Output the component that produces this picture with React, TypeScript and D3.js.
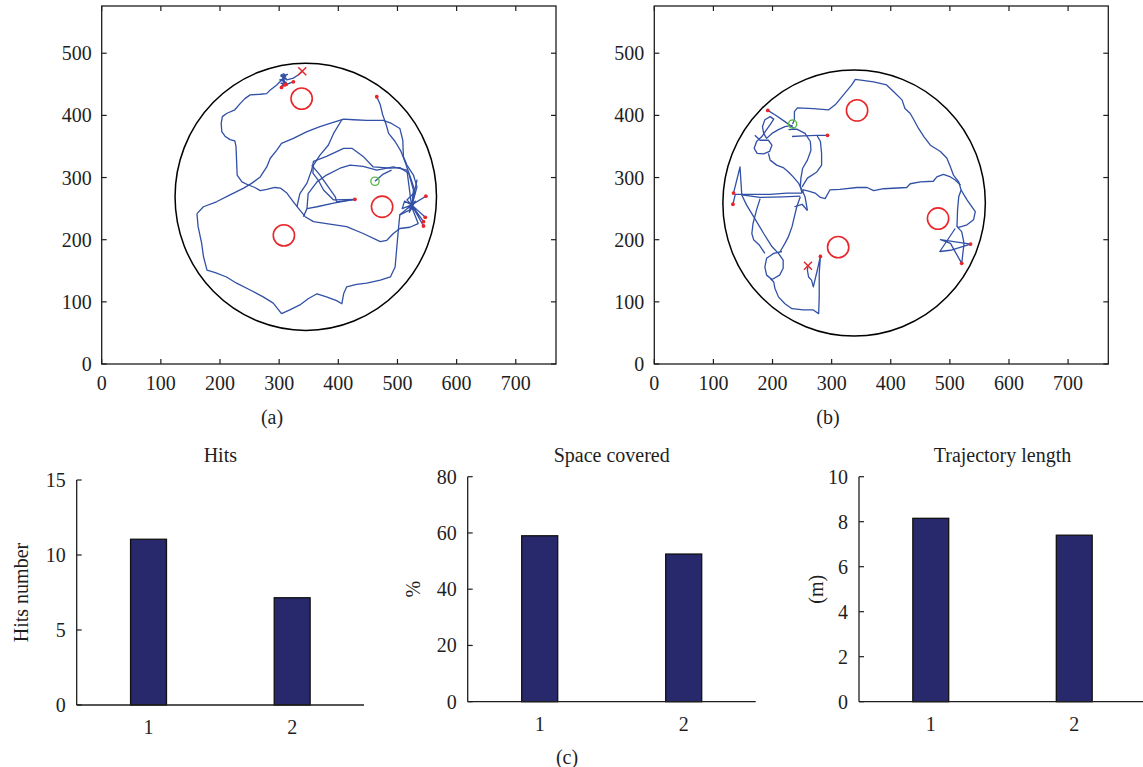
import React from 'react';
import * as d3 from 'd3';

const W = 1143;
const H = 767;
const FONT = '"Liberation Serif", "Times New Roman", serif';
const INK = '#1e1e1e';
const TRAJ = '#3150a6';
const RED = '#e8262a';
const GREEN = '#5cb84a';
const BAR = '#28286c';

// ---------- map panels data ----------
const mapXTicks = [0, 100, 200, 300, 400, 500, 600, 700];
const mapYTicks = [0, 100, 200, 300, 400, 500];
const mapXDomain = [0, 768];
const mapYDomain = [0, 576];

// arena: cx, cy, rx, ry
const arenaA = [345, 269, 221, 215];
const arenaB = [338, 259, 222, 214];
const targetsA = [[338, 427], [474, 253], [308, 207]];
const targetsB = [[343, 408], [480, 234], [311, 188]];
const startA = [462, 294];
const startB = [234, 386];
const endA = [339, 471];
const endB = [260, 158];
const hitsA = [[304, 445], [309, 449], [312, 450], [324, 454], [428, 265], [465, 430], [548, 270], [547, 236], [544, 229], [544, 222]];
const hitsB = [[192, 408], [293, 368], [134, 275], [133, 257], [281, 173], [535, 193], [520, 162]];

// panel (a) trajectory pieces
const a1 = [[307, 460], [296, 449], [285, 441], [279, 435], [268, 434], [251, 433], [242, 427], [234, 419], [225, 409], [211, 403], [204, 398], [202, 387], [203, 374], [209, 366], [217, 361], [225, 359], [227, 350], [228, 328], [229, 304], [237, 293], [248, 288], [259, 284], [268, 279], [279, 281], [293, 284], [302, 283], [313, 275], [324, 261], [333, 250], [344, 237], [358, 229], [380, 226], [414, 221], [442, 210], [471, 197], [482, 199], [493, 210], [504, 218], [521, 220], [535, 226], [524, 253]];
const a2 = [[161, 242], [172, 253], [194, 261], [217, 272], [240, 283], [254, 291], [268, 301], [279, 317], [285, 331], [296, 344], [304, 355], [324, 363], [347, 374], [369, 382], [386, 387], [409, 394], [426, 393], [448, 392], [476, 392], [490, 387], [504, 379], [509, 360], [510, 334], [516, 320], [527, 304], [533, 285], [527, 264], [524, 253]];
const a3 = [[161, 242], [163, 221], [169, 194], [172, 173], [178, 151], [192, 147], [211, 140], [228, 130], [251, 119], [273, 108], [290, 98], [304, 81], [318, 87], [335, 95], [349, 105], [364, 113], [380, 108], [397, 102], [406, 97], [409, 113], [414, 124], [431, 128], [448, 130], [471, 135], [488, 140], [496, 156], [499, 189], [502, 221], [504, 240], [521, 248], [524, 253]];
const a4 = [[465, 430], [471, 417], [475, 401], [481, 385], [485, 371], [496, 358], [506, 342], [514, 322], [522, 300], [529, 280], [524, 256]];
const a5 = [[330, 253], [335, 274], [347, 291], [355, 312], [358, 326], [380, 334], [409, 347], [423, 347], [442, 334], [459, 317], [488, 315], [504, 316], [519, 307], [527, 280], [524, 253]];
const a6 = [[341, 237], [347, 250], [364, 253], [392, 259], [428, 265]];
const a7 = [[355, 320], [369, 304], [383, 285], [395, 269], [397, 261], [428, 265]];
const a8 = [[347, 250], [349, 274], [364, 293], [380, 304], [403, 315], [420, 320], [442, 318], [465, 312], [493, 317], [516, 312], [524, 253]];
const a9 = [[406, 393], [392, 371], [383, 352], [369, 336], [358, 320], [357, 307], [366, 296], [375, 280], [392, 264], [428, 265]];
const a10 = [[462, 294], [475, 305], [490, 312]];
const a11 = [[548, 270], [524, 256], [547, 236], [524, 256], [544, 229], [524, 256], [544, 222], [524, 256], [504, 240], [524, 256], [516, 264], [530, 277], [524, 256], [533, 296], [524, 256], [512, 262], [508, 250], [524, 256], [520, 244], [530, 262], [518, 252], [528, 248], [524, 256]];
const a12 = [[339, 471], [332, 465], [324, 460], [313, 457], [306, 462], [314, 466], [303, 463], [312, 459], [301, 457], [312, 453], [303, 452], [310, 449], [304, 446], [309, 455], [307, 460], [303, 465], [308, 467], [311, 462], [305, 458], [309, 452], [306, 449], [312, 450], [324, 454]];
const trajA = [a1, a2, a3, a4, a5, a6, a7, a8, a9, a10, a11, a12];

// panel (b) trajectory pieces
const b1 = [[234, 386], [237, 393], [237, 406], [242, 412], [269, 411], [295, 409], [306, 417], [320, 433], [334, 449], [340, 458], [371, 454], [393, 449], [405, 438], [419, 425], [424, 411], [433, 403], [439, 393], [447, 379], [456, 366], [467, 352], [484, 342], [495, 331], [501, 317], [506, 304], [515, 293], [519, 280], [515, 269], [513, 248], [512, 221]];
const b2 = [[519, 280], [529, 264], [543, 245], [540, 232], [529, 224], [515, 220], [512, 221], [520, 213], [524, 194], [522, 178], [520, 162], [501, 194], [484, 200], [535, 193], [501, 183], [483, 181], [509, 218]];
const b3 = [[518, 288], [509, 296], [501, 301], [489, 305], [478, 301], [472, 294], [450, 293], [433, 290], [427, 284], [388, 282], [371, 279], [360, 284], [343, 284], [314, 281], [297, 280], [289, 266], [281, 268], [272, 275], [261, 278], [252, 280], [250, 275]];
const b4 = [[192, 408], [204, 401], [221, 390], [237, 379]];
const b5 = [[234, 384], [221, 382], [210, 377], [199, 371], [190, 363], [185, 371], [183, 382], [187, 393], [196, 398], [202, 394], [196, 385], [190, 377], [182, 366], [173, 358], [169, 347], [174, 339], [185, 338], [195, 342], [199, 352], [193, 360], [179, 360], [170, 368]];
const b6 = [[233, 366], [252, 367], [275, 368], [293, 368]];
const b7 = [[227, 377], [241, 378], [255, 371], [264, 358], [265, 344], [259, 328], [251, 315], [248, 299], [247, 285], [250, 275]];
const b8 = [[275, 368], [281, 358], [283, 339], [283, 320], [275, 309], [259, 299], [250, 285]];
const b9 = [[193, 339], [196, 328], [207, 320], [218, 316], [227, 309], [235, 301], [244, 291], [250, 280], [255, 269], [259, 247]];
const b10 = [[134, 275], [145, 317], [148, 272], [179, 268], [218, 269], [247, 270]];
const b11 = [[133, 257], [137, 273], [168, 273], [196, 273], [224, 275], [250, 275]];
const b12 = [[148, 272], [156, 256], [168, 237], [185, 210], [199, 189], [210, 178], [218, 167], [218, 154], [212, 143], [199, 136], [190, 143], [187, 156], [190, 170], [202, 178], [216, 181]];
const b13 = [[179, 266], [173, 248], [167, 226], [165, 210], [168, 200], [178, 191], [187, 178]];
const b14 = [[247, 269], [241, 253], [237, 237], [233, 221], [227, 205], [221, 194], [213, 181]];
const b15 = [[196, 138], [202, 132], [204, 122], [210, 108], [221, 97], [233, 89], [252, 87], [269, 87], [278, 81], [279, 108], [279, 146], [281, 173], [275, 148], [269, 124], [266, 135], [261, 140], [259, 151], [260, 158]];
const b16 = [[237, 253], [250, 257], [259, 247]];
const trajB = [b1, b2, b3, b4, b5, b6, b7, b8, b9, b10, b11, b12, b13, b14, b15, b16];

// ---------- bar chart data ----------
const barCategories = [1, 2];
const hitsValues = [11.05, 7.15];
const hitsTicks = [0, 5, 10, 15];
const spaceValues = [59.0, 52.5];
const spaceTicks = [0, 20, 40, 60, 80];
const lengthValues = [8.15, 7.4];
const lengthTicks = [0, 2, 4, 6, 8, 10];

type Pt = number[];

function MapPanel(props: {
  left: number; right: number; top: number; bottom: number;
  arena: number[]; targets: Pt[]; start: Pt; end: Pt; hits: Pt[]; segs: Pt[][];
  label: string; labelX: number;
}) {
  const { left, right, top, bottom, arena, targets, start, end, hits, segs, label, labelX } = props;
  const x = d3.scaleLinear().domain(mapXDomain).range([left, right]);
  const y = d3.scaleLinear().domain(mapYDomain).range([bottom, top]);
  const line = d3.line<Pt>().x(d => x(d[0])).y(d => y(d[1]));
  const tr = x(18) - x(0);
  const gr = x(7) - x(0);
  const xs = 4;
  return (
    <g>
      <rect x={left} y={top} width={right - left} height={bottom - top} fill="white" stroke={INK} strokeWidth={1.3} />
      {mapXTicks.map(t => (
        <g key={'xt' + t}>
          <line x1={x(t)} x2={x(t)} y1={bottom} y2={bottom - 5} stroke={INK} strokeWidth={1.2} />
          <line x1={x(t)} x2={x(t)} y1={top} y2={top + 5} stroke={INK} strokeWidth={1.2} />
          <text x={x(t)} y={bottom + 26} textAnchor="middle" fontFamily={FONT} fontSize={20} fill={INK}>{t}</text>
        </g>
      ))}
      {mapYTicks.map(t => (
        <g key={'yt' + t}>
          <line x1={left} x2={left + 5} y1={y(t)} y2={y(t)} stroke={INK} strokeWidth={1.2} />
          <line x1={right} x2={right - 5} y1={y(t)} y2={y(t)} stroke={INK} strokeWidth={1.2} />
          <text x={left - 10} y={y(t)} dy="0.35em" textAnchor="end" fontFamily={FONT} fontSize={20} fill={INK}>{t}</text>
        </g>
      ))}
      <ellipse cx={x(arena[0])} cy={y(arena[1])} rx={x(arena[0] + arena[2]) - x(arena[0])} ry={y(arena[1]) - y(arena[1] + arena[3])} fill="none" stroke="#000" strokeWidth={1.5} />
      {targets.map((t, i) => (
        <circle key={'tg' + i} cx={x(t[0])} cy={y(t[1])} r={tr} fill="none" stroke={RED} strokeWidth={1.6} />
      ))}
      {segs.map((s, i) => (
        <path key={'sg' + i} d={line(s) || ''} fill="none" stroke={TRAJ} strokeWidth={1.3} strokeLinejoin="round" />
      ))}
      <circle cx={x(start[0])} cy={y(start[1])} r={gr} fill="none" stroke={GREEN} strokeWidth={1.4} />
      {hits.map((h, i) => (
        <circle key={'h' + i} cx={x(h[0])} cy={y(h[1])} r={1.9} fill={RED} />
      ))}
      <g stroke={RED} strokeWidth={1.5}>
        <line x1={x(end[0]) - xs} x2={x(end[0]) + xs} y1={y(end[1]) - xs} y2={y(end[1]) + xs} />
        <line x1={x(end[0]) - xs} x2={x(end[0]) + xs} y1={y(end[1]) + xs} y2={y(end[1]) - xs} />
      </g>
      <text x={labelX} y={424} textAnchor="middle" fontFamily={FONT} fontSize={20} fill={INK}>{label}</text>
    </g>
  );
}

function BarPanel(props: {
  left: number; width: number; top: number; bottom: number;
  values: number[]; ticks: number[]; title: string; ylabel: string; ylabelX: number;
}) {
  const { left, width, top, bottom, values, ticks, title, ylabel, ylabelX } = props;
  const x = d3.scaleLinear().domain([0.5, 2.5]).range([left, left + width]);
  const y = d3.scaleLinear().domain([ticks[0], ticks[ticks.length - 1]]).range([bottom, top]);
  const bw = x(0.25) - x(0);
  const midY = (top + bottom) / 2;
  return (
    <g>
      {barCategories.map((c, i) => (
        <rect key={'b' + c} x={x(c) - bw / 2} y={y(values[i])} width={bw} height={y(0) - y(values[i])} fill={BAR} stroke="#111" strokeWidth={1.3} />
      ))}
      <line x1={left} x2={left} y1={top} y2={bottom} stroke={INK} strokeWidth={1.3} />
      <line x1={left} x2={Math.min(left + width, W)} y1={bottom} y2={bottom} stroke={INK} strokeWidth={1.3} />
      {ticks.map(t => (
        <g key={'t' + t}>
          <line x1={left} x2={left + 5} y1={y(t)} y2={y(t)} stroke={INK} strokeWidth={1.2} />
          <text x={left - 11} y={y(t)} dy="0.35em" textAnchor="end" fontFamily={FONT} fontSize={20} fill={INK}>{t}</text>
        </g>
      ))}
      {barCategories.map(c => (
        <text key={'c' + c} x={x(c)} y={bottom + 29} textAnchor="middle" fontFamily={FONT} fontSize={20} fill={INK}>{c}</text>
      ))}
      <text x={left + width / 2} y={462} textAnchor="middle" fontFamily={FONT} fontSize={20} fill={INK}>{title}</text>
      <text transform={`translate(${ylabelX},${midY}) rotate(-90)`} textAnchor="middle" dy="0.35em" fontFamily={FONT} fontSize={20} fill={INK}>{ylabel}</text>
    </g>
  );
}

export default function App() {
  return (
    <svg width={W} height={H} viewBox={`0 0 ${W} ${H}`} style={{ position: 'absolute', left: 0, top: 0, background: 'white' }}>
      <rect x={0} y={0} width={W} height={H} fill="white" />
      <MapPanel left={101.7} right={556} top={6} bottom={364} arena={arenaA} targets={targetsA} start={startA} end={endA} hits={hitsA} segs={trajA} label="(a)" labelX={272} />
      <MapPanel left={654.3} right={1108.3} top={6} bottom={364} arena={arenaB} targets={targetsB} start={startB} end={endB} hits={hitsB} segs={trajB} label="(b)" labelX={828} />
      <BarPanel left={76.7} width={287.3} top={480} bottom={705} values={hitsValues} ticks={hitsTicks} title="Hits" ylabel="Hits number" ylabelX={21} />
      <BarPanel left={467.7} width={288} top={476.7} bottom={701.7} values={spaceValues} ticks={spaceTicks} title="Space covered" ylabel="%" ylabelX={413} />
      <BarPanel left={859} width={287} top={476.7} bottom={701.7} values={lengthValues} ticks={lengthTicks} title="Trajectory length" ylabel="(m)" ylabelX={816} />
      <text x={567} y={764} textAnchor="middle" fontFamily={FONT} fontSize={20} fill={INK}>(c)</text>
    </svg>
  );
}
